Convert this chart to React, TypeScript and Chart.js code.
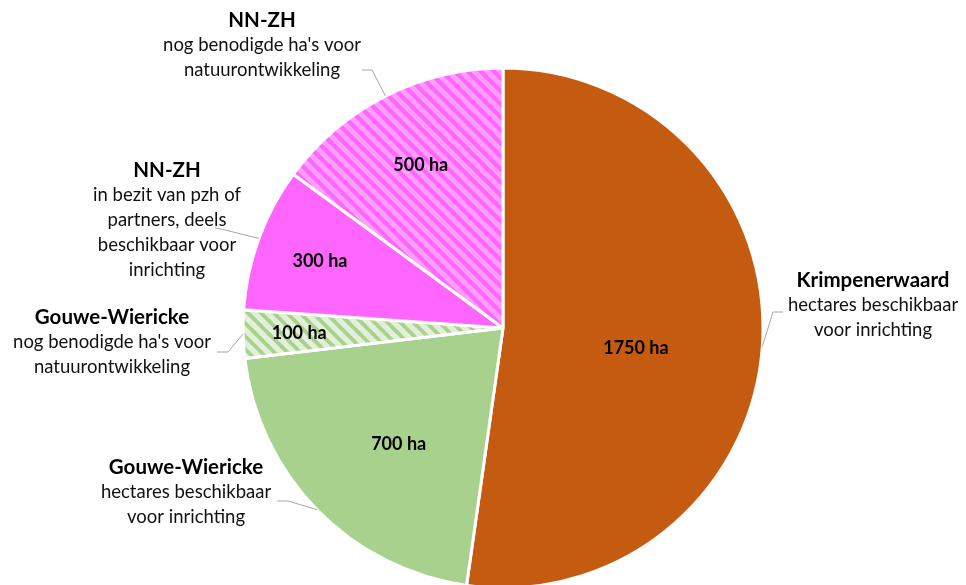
import React, { useEffect, useRef } from "react";
import { Chart, registerables } from "chart.js";

Chart.register(...registerables);

// ---------- data ----------
const categories = ["Krimpenerwaard", "Gouwe-Wiericke", "Gouwe-Wiericke", "NN-ZH", "NN-ZH"];
const descriptions = [
  ["hectares beschikbaar", "voor inrichting"],
  ["hectares beschikbaar", "voor inrichting"],
  ["nog benodigde ha's voor", "natuurontwikkeling"],
  ["in bezit van pzh of", "partners, deels", "beschikbaar voor", "inrichting"],
  ["nog benodigde ha's voor", "natuurontwikkeling"],
];
const hectares = [1750, 700, 100, 300, 500];
const unit = "ha";

// ---------- styling / layout ----------
const FONT = "Lato, 'Open Sans', sans-serif";
const fillSpec = [
  { base: "#C55A11" },
  { base: "#A9D18E" },
  { base: "#E2F0D9", stripe: "#A9D18E", w: 3.8 },
  { base: "#FF66FF" },
  { base: "#FF66FF", stripe: "#FF9EFF", w: 5 },
];
const labelLayout = [
  { x: 873, y: 280, from: [783, 312], elbow: [773, 312] },
  { x: 186, y: 467, from: [277, 501], elbow: [288, 501] },
  { x: 112, y: 317, from: [217, 352], elbow: [228, 352] },
  { x: 167, y: 170, from: [215, 228], elbow: [221, 229] },
  { x: 262, y: 20, from: [362, 70], elbow: [372, 70] },
];
const valueLayout = [
  { r: 0.517, da: 4.6 },
  { r: 0.6, da: -3.7 },
  { r: 0.784, da: 0 },
  { r: 0.75, da: 0 },
  { r: 0.7, da: 0 },
];

function makeStripes(base: string, stripe: string, w: number) {
  const s = 13;
  const c = document.createElement("canvas");
  c.width = s;
  c.height = s;
  const g = c.getContext("2d")!;
  g.fillStyle = base;
  g.fillRect(0, 0, s, s);
  g.strokeStyle = stripe;
  g.lineWidth = w;
  for (let k = -1; k <= 1; k++) {
    g.beginPath();
    g.moveTo(k * s - s, -s);
    g.lineTo(k * s + 2 * s, 2 * s);
    g.stroke();
  }
  return g.createPattern(c, "repeat")!;
}

const labelsPlugin = {
  id: "outerLabels",
  afterDatasetsDraw(chart: any) {
    const ctx = chart.ctx as CanvasRenderingContext2D;
    const meta = chart.getDatasetMeta(0);
    ctx.save();
    meta.data.forEach((arc: any, i: number) => {
      const { x, y, startAngle, endAngle, outerRadius } = arc.getProps(
        ["x", "y", "startAngle", "endAngle", "outerRadius"],
        true
      );
      const mid = (startAngle + endAngle) / 2;
      // value label
      const vl = valueLayout[i];
      const a = mid + (vl.da * Math.PI) / 180;
      const vx = x + Math.cos(a) * outerRadius * vl.r;
      const vy = y + Math.sin(a) * outerRadius * vl.r;
      ctx.fillStyle = "#000";
      ctx.font = `bold 18px ${FONT}`;
      ctx.textAlign = "center";
      ctx.textBaseline = "middle";
      ctx.fillText(`${hectares[i]} ${unit}`, vx, vy);

      // leader line
      const L = labelLayout[i];
      const ex = x + Math.cos(mid) * outerRadius;
      const ey = y + Math.sin(mid) * outerRadius;
      ctx.strokeStyle = "#A6A6A6";
      ctx.lineWidth = 1;
      ctx.beginPath();
      ctx.moveTo(L.from[0], L.from[1]);
      ctx.lineTo(L.elbow[0], L.elbow[1]);
      ctx.lineTo(ex, ey);
      ctx.stroke();

      // category text
      ctx.fillStyle = "#000";
      ctx.font = `bold 20.5px ${FONT}`;
      ctx.fillText(categories[i], L.x, L.y);
      ctx.font = `18.5px ${FONT}`;
      ctx.fillStyle = "#111";
      descriptions[i].forEach((line, j) => {
        ctx.fillText(line, L.x, L.y + (j + 1) * 25);
      });
    });
    ctx.restore();
  },
};

export default function App() {
  const ref = useRef<HTMLCanvasElement>(null);
  useEffect(() => {
    const canvas = ref.current!;
    const bg = fillSpec.map((f) =>
      f.stripe ? makeStripes(f.base, f.stripe, f.w as number) : f.base
    );
    const chart = new Chart(canvas, {
      type: "pie",
      data: {
        labels: categories,
        datasets: [
          {
            data: hectares,
            backgroundColor: bg as any,
            borderColor: "#FFFFFF",
            borderWidth: 3,
          },
        ],
      },
      options: {
        responsive: false,
        animation: false,
        radius: 260,
        layout: { padding: { left: 243, right: 203, top: 68, bottom: 2 } },
        plugins: {
          legend: { display: false },
          tooltip: { enabled: false },
        },
      },
      plugins: [labelsPlugin],
    });
    return () => chart.destroy();
  }, []);
  return (
    <div
      style={{
        position: "absolute",
        left: 0,
        top: 0,
        width: 966,
        height: 585,
        overflow: "hidden",
        background: "#fff",
      }}
    >
      <canvas ref={ref} width={966} height={590} style={{ display: "block" }} />
    </div>
  );
}
